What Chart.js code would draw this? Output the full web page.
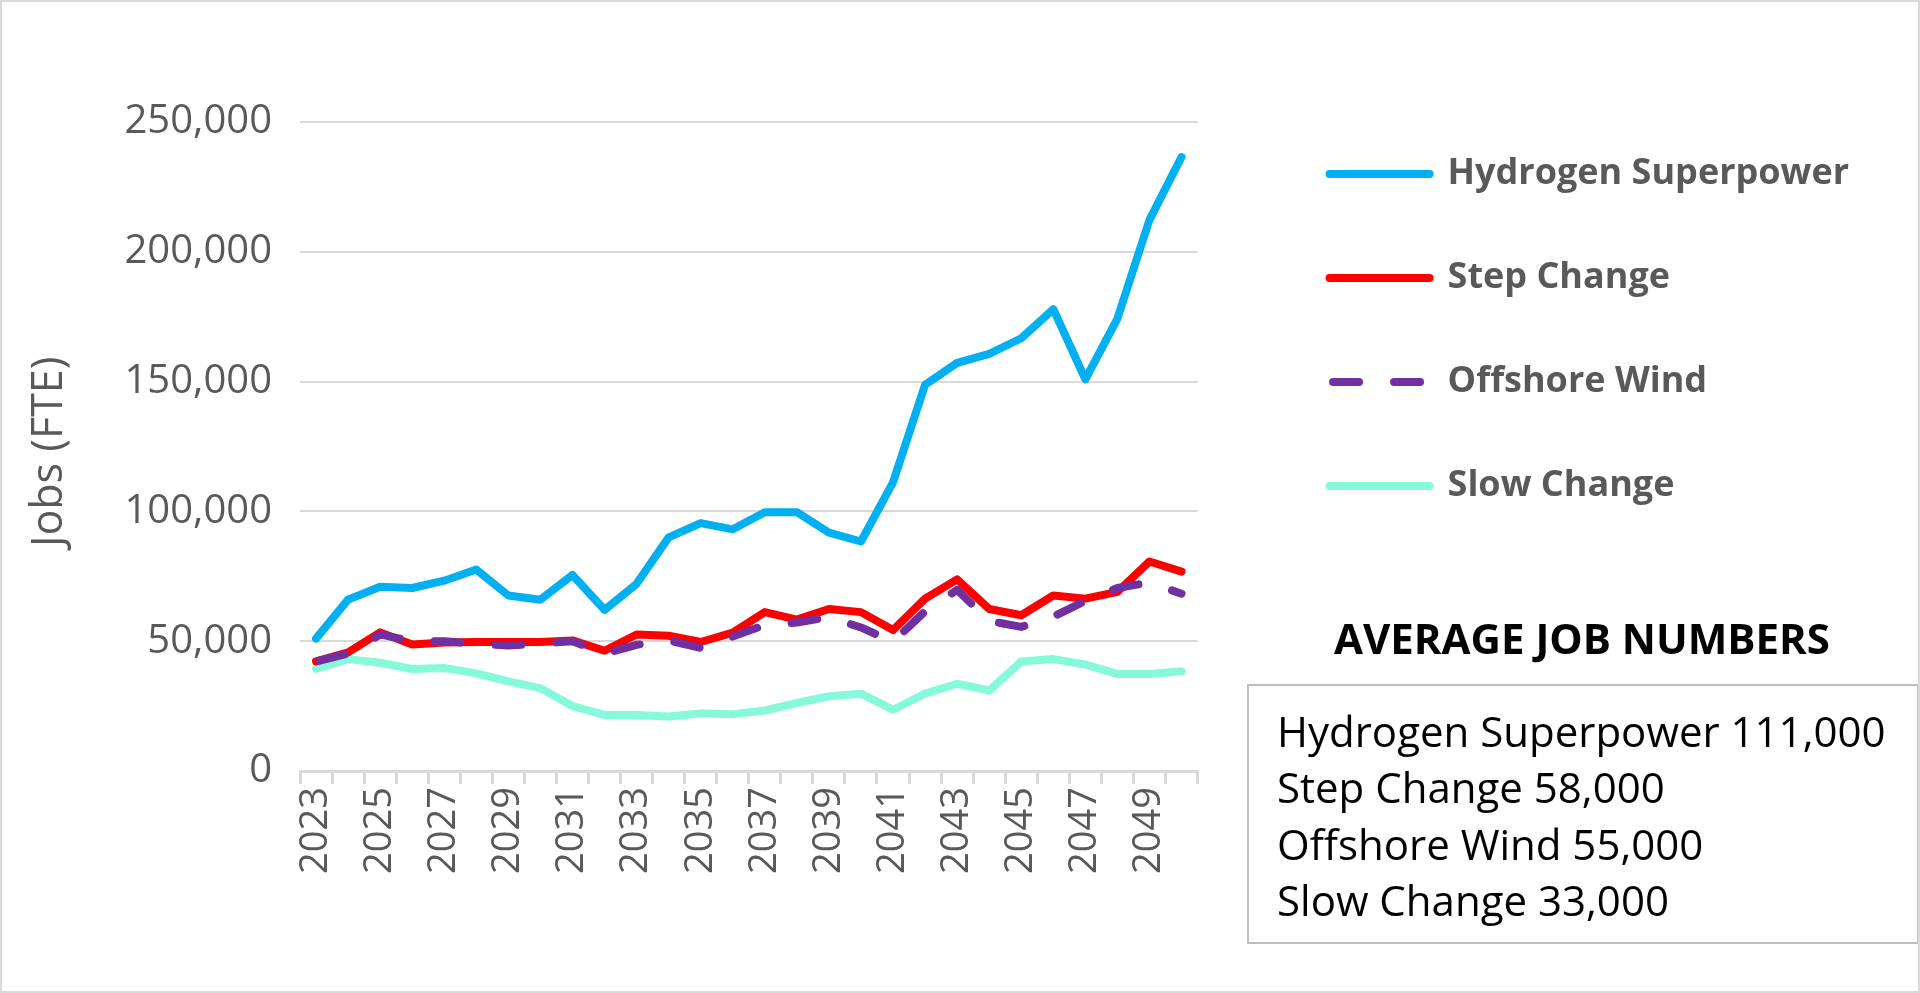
<!DOCTYPE html>
<html>
<head>
<meta charset="utf-8">
<script src="https://cdn.jsdelivr.net/npm/chart.js@4.4.1/dist/chart.umd.min.js"></script>
<style>
  body { margin: 0; background: #fff; font-family: "Open Sans", sans-serif; }
  .page { position: relative; width: 1920px; height: 993px; overflow: hidden; }
  .frame { position: absolute; left: 0; top: 0; width: 1920px; height: 993px; box-sizing: border-box; border: 2px solid #d9d9d9; pointer-events: none; }
  .chart-wrapper { position: absolute; left: 0; top: 0; width: 1920px; height: 993px; }
  .avg-title { position: absolute; left: 1247px; top: 612px; width: 670px; text-align: center; font-weight: bold; font-size: 42px; line-height: 52px; color: #000; }
  .avg-box { position: absolute; left: 1247px; top: 684px; width: 672px; height: 260px; box-sizing: border-box; border: 2px solid #bfbfbf; padding: 17px 0 0 28px; font-size: 42px; line-height: 56.4px; color: #000; white-space: nowrap; }
</style>
</head>
<body>
<div class="page">
  <div class="chart-wrapper"><canvas id="jobs-chart"></canvas></div>
  <div class="avg-title">AVERAGE JOB NUMBERS</div>
  <div class="avg-box" id="avg-box"></div>
  <div class="frame"></div>
</div>
<script>
// Data
const years = ["2023", "2024", "2025", "2026", "2027", "2028", "2029", "2030", "2031", "2032",
  "2033", "2034", "2035", "2036", "2037", "2038", "2039", "2040", "2041", "2042",
  "2043", "2044", "2045", "2046", "2047", "2048", "2049", "2050"];

const hydrogenSuperpower = [51000, 66000, 71000, 70500, 73300, 77600, 67600, 66000, 75500, 62100,
  72100, 90000, 95500, 93100, 99700, 99700, 91800, 88400, 111200, 148800,
  157200, 160700, 166700, 177900, 150900, 174300, 212300, 236500];

const stepChange = [42200, 45700, 53400, 48700, 49500, 49700, 49700, 49700, 50300, 46300,
  52600, 52100, 49700, 53300, 61200, 58300, 62400, 61200, 54300, 66400,
  73800, 62400, 60000, 67600, 66400, 69000, 80700, 76800];

const offshoreWind = [42200, 45200, 52600, 50000, 50000, 49100, 48300, 49100, 50000, 45200,
  48600, 50300, 47400, 51800, 56200, 57200, 59300, 55300, 49800, 61500,
  69800, 57800, 55500, 59500, 65500, 70500, 72600, 68300];

const slowChange = [39300, 43100, 41700, 39300, 39700, 37600, 34500, 31900, 25000, 21600,
  21600, 21000, 22200, 21900, 23300, 26200, 28800, 29800, 23600, 29800,
  33600, 31000, 42200, 43100, 41000, 37400, 37400, 38400];

const yTicks = [0, 50000, 100000, 150000, 200000, 250000];

const averageNames = ["Hydrogen Superpower", "Step Change", "Offshore Wind", "Slow Change"];
const averageValues = [111000, 58000, 55000, 33000];

// Average box
const avgBox = document.getElementById("avg-box");
averageNames.forEach((name, i) => {
  const line = document.createElement("div");
  line.textContent = `${name} ${averageValues[i].toLocaleString("en-US")}`;
  avgBox.append(line);
});

// Chart
const axisGrey = "#595959";
const gridGrey = "#d9d9d9";

const lineStyle = {
  borderWidth: 8,
  pointRadius: 0,
  pointHoverRadius: 0,
  tension: 0,
  fill: false,
  borderCapStyle: "round",
  borderJoinStyle: "round",
};

// legend items use the point style, so copy the line dash back from the dataset
const legendLabels = (chart) => {
  const items = Chart.defaults.plugins.legend.labels.generateLabels(chart);
  items.forEach((item) => {
    const dataset = chart.data.datasets[item.datasetIndex];
    item.lineDash = dataset.borderDash || [];
    item.lineDashOffset = dataset.borderDashOffset || 0;
    item.lineCap = "round";
  });
  return items;
};

const drawChart = () => {
  const data = {
    labels: years,
    datasets: [
      { ...lineStyle, label: "Hydrogen Superpower", data: hydrogenSuperpower, borderColor: "#00b0f0", backgroundColor: "#00b0f0", order: 2 },
      { ...lineStyle, label: "Step Change", data: stepChange, borderColor: "#ff0000", backgroundColor: "#ff0000", order: 1 },
      { ...lineStyle, label: "Offshore Wind", data: offshoreWind, borderColor: "#7030a0", backgroundColor: "#7030a0", borderDash: [26, 35], borderDashOffset: 57.5, order: 0 },
      { ...lineStyle, label: "Slow Change", data: slowChange, borderColor: "#86f9da", backgroundColor: "#86f9da", order: 3 },
    ],
  };

  const chartSettings = {
    responsive: true,
    maintainAspectRatio: false,
    animation: false,
    devicePixelRatio: 1,
    layout: { padding: { top: 88, left: 10, right: 61, bottom: 112 } },
    plugins: {
      tooltip: { enabled: false },
      legend: {
        position: "right",
        align: "start",
        maxWidth: 800,
        labels: {
          usePointStyle: true,
          pointStyle: "line",
          pointStyleWidth: 100,
          padding: 68,
          textAlign: "left",
          color: axisGrey,
          font: { family: "Open Sans", size: 36, weight: "bold" },
          generateLabels: legendLabels,
          sort: (a, b) => a.datasetIndex - b.datasetIndex,
        },
      },
    },
    scales: {
      x: {
        type: "category",
        offset: true,
        grid: { offset: true, drawOnChartArea: false, drawTicks: true, tickLength: 13, color: gridGrey, lineWidth: 3 },
        border: { display: true, color: gridGrey, width: 3 },
        ticks: {
          autoSkip: false,
          minRotation: 90,
          maxRotation: 90,
          padding: 3,
          color: axisGrey,
          font: { family: "Open Sans", size: 38 },
          callback: function (value, index) {
            return index % 2 === 0 ? this.getLabelForValue(value) : "";
          },
        },
        afterFit: (scale) => { scale.height = 110; },
      },
      y: {
        min: 0,
        max: 263100,
        grid: { color: gridGrey, lineWidth: 2, drawTicks: false },
        border: { display: false },
        afterBuildTicks: (scale) => { scale.ticks = yTicks.map((v) => ({ value: v })); },
        ticks: {
          padding: 28,
          color: axisGrey,
          font: { family: "Open Sans", size: 40 },
          callback: (value) => Number(value).toLocaleString("en-US"),
        },
        title: {
          display: true,
          text: "Jobs (FTE)\u00a0\u00a0\u00a0\u00a0",
          color: axisGrey,
          font: { family: "Open Sans", size: 43 },
          padding: { top: 14, bottom: 0 },
        },
        afterFit: (scale) => { scale.width = 290; },
      },
      spacer: {
        type: "linear",
        position: "right",
        display: true,
        grid: { display: false },
        border: { display: false },
        ticks: { display: false },
        afterFit: (scale) => { scale.width = 64; },
      },
    },
  };

  new Chart(document.getElementById("jobs-chart"), {
    type: "line",
    data: data,
    options: chartSettings,
  });
};

// wait for the local fonts so the legend is measured with the right font
Promise.allSettled([
  document.fonts.load('bold 36px "Open Sans"'),
  document.fonts.load('40px "Open Sans"'),
]).then(drawChart);
</script>
</body>
</html>
